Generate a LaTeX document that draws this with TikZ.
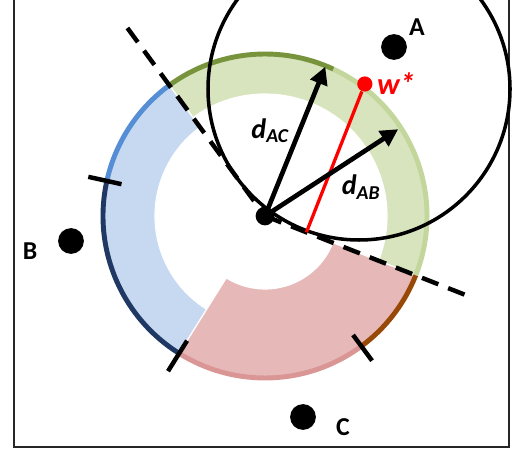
\documentclass[tikz,border=0pt]{standalone}
\usepackage{fontspec}
\setmainfont{Carlito}
\usetikzlibrary{arrows.meta,calc,positioning}
\definecolor{grfill}{HTML}{D7E4BD}
\definecolor{grdark}{HTML}{77933C}
\definecolor{grlight}{HTML}{C3D69B}
\definecolor{blfill}{HTML}{C6D9F1}
\definecolor{bllight}{HTML}{558ED5}
\definecolor{bldark}{HTML}{1F3864}
\definecolor{rdfill}{HTML}{E6B9B8}
\definecolor{rdrim}{HTML}{D99694}
\definecolor{brrim}{HTML}{984807}
\tikzset{every picture/.style={line width=0.75pt}}
\tikzset{
  rim/.style={line width=4.2pt},
  tickmark/.style={line width=3.8pt},
  bound/.style={line width=3.8pt, dash pattern=on 15pt off 9pt},
  vec/.style={line width=4pt, -{Triangle[length=15pt,width=15pt]}},
  dot/.style={circle, fill=black, inner sep=0pt, minimum size=22pt},
  lab/.style={font=\bfseries\fontsize{22}{26}\selectfont},
  dlab/.style={font=\bfseries\itshape\fontsize{24}{28}\selectfont}
}

\begin{document}
\begin{tikzpicture}[x=0.03cm,y=0.03cm]
    \clip (0,0) rectangle (516,453);
    % 边框
    \draw[line width=1.7pt, black!85] (14,470) -- (14,6) -- (509,6) -- (509,470);

    % 中心
    \coordinate (O) at (265,237);

    % 三个扇形
    \fill[grfill, draw=white, line width=1pt] ($(O)+(-21.5:164)$) arc[start angle=-21.5, end angle=126.2, radius=164]
        -- ($(O)+(126.2:122)$) arc[start angle=126.2, end angle=-21.5, radius=122] -- cycle;
    \fill[blfill, draw=white, line width=1pt] ($(O)+(126.2:164)$) arc[start angle=126.2, end angle=238, radius=164]
        -- ($(O)+(238:110)$) arc[start angle=238, end angle=126.2, radius=110] -- cycle;
    \fill[rdfill, draw=white, line width=1pt] ($(O)+(238:164)$) arc[start angle=238, end angle=338.5, radius=164]
        -- ($(O)+(338.5:73)$) arc[start angle=338.5, end angle=238, radius=73] -- cycle;

    % 外缘
    \draw[rim, grdark] ($(O)+(126.2:162)$) arc[start angle=126.2, end angle=65, radius=162];
    \draw[rim, grlight] ($(O)+(65:162)$) arc[start angle=65, end angle=-21.5, radius=162];
    \draw[rim, bllight] ($(O)+(126.2:162)$) arc[start angle=126.2, end angle=167.5, radius=162];
    \draw[rim, bldark] ($(O)+(167.5:162)$) arc[start angle=167.5, end angle=238, radius=162];
    \draw[rim, rdrim] ($(O)+(238:162)$) arc[start angle=238, end angle=306.5, radius=162];
    \draw[rim, brrim] ($(O)+(306.5:162)$) arc[start angle=306.5, end angle=338.5, radius=162];

    % 分界线
    \coordinate (R1) at ($(O)+(126.2:233)$);
    \coordinate (R2) at ($(O)+(-21.5:222)$);
    \draw[bound] (R1) -- (O);
    \draw[bound] (O) -- (R2);

    % 刻度
    \draw[tickmark] ($(O)+(167.5:147)$) -- ($(O)+(167.5:181)$);
    \draw[tickmark] ($(O)+(238:147)$) -- ($(O)+(238:183)$);
    \draw[tickmark] ($(O)+(306.5:148)$) -- ($(O)+(306.5:180)$);

    % 大圆
    \coordinate (M) at (359,364);
    \draw[line width=3pt] (M) circle[radius=151];

    % w* 及其投影
    \node[circle, fill=red, inner sep=0pt, minimum size=13pt] (W) at ($(O)+(52.9:165.5)$) {};
    \coordinate (F) at ($(O)!(W)!(R2)$);
    \draw[red, line width=2.8pt] (W) -- (F);
    \node[right=0pt of W, red, font=\bfseries\itshape\fontsize{26}{30}\selectfont] (wlab) {w*};

    % 距离箭头
    \coordinate (tAC) at ($(O)+(68:161)$);
    \coordinate (tAB) at ($(O)+(33.1:159)$);
    \draw[vec] (O) -- (tAC);
    \draw[vec] (O) -- (tAB);
    \node[dot, minimum size=16pt] (o) at (O) {};
    \node[dlab] (dAC) at (270,322) {d\textsubscript{AC}};
    \node[dlab] (dAB) at (361,266) {d\textsubscript{AB}};

    % 三个点
    \node[dot] (A) at (394,406) {};
    \node[dot] (B) at (71,212) {};
    \node[dot] (C) at (303,36) {};
    \node[lab] (lA) at (417,426) {A};
    \node[lab] (lB) at (30,202) {B};
    \node[lab] (lC) at (343,26) {C};
\end{tikzpicture}
\end{document}
